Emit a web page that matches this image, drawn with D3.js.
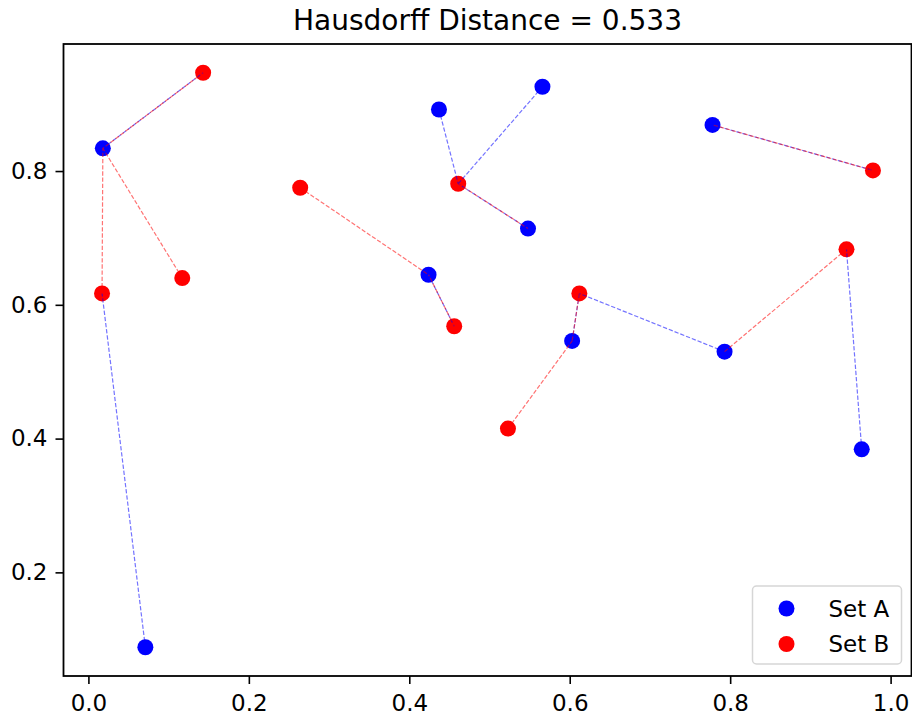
<!DOCTYPE html>
<html>
<head>
<meta charset="utf-8">
<script src="https://cdn.jsdelivr.net/npm/d3@7"></script>
<style>
  body { margin: 0; background: #fff; }
  text { font-family: "DejaVu Sans", sans-serif; }
</style>
</head>
<body>
<div id="chart"></div>
<script>
// point sets
const setAx = [0.018, 0.071, 0.437, 0.566, 0.548, 0.424, 0.603, 0.793, 0.778, 0.964];
const setAy = [0.834, 0.088, 0.892, 0.926, 0.714, 0.645, 0.546, 0.530, 0.869, 0.384];
const setBx = [0.143, 0.017, 0.117, 0.264, 0.461, 0.456, 0.612, 0.523, 0.945, 0.978];
const setBy = [0.947, 0.617, 0.640, 0.775, 0.781, 0.568, 0.617, 0.415, 0.683, 0.801];

const xTicks = [0.0, 0.2, 0.4, 0.6, 0.8, 1.0];
const yTicks = [0.2, 0.4, 0.6, 0.8];
const seriesNames = ["Set A", "Set B"];
const seriesColors = ["#0000ff", "#ff0000"];
const title = "Hausdorff Distance = 0.533";

const width = 912;
const height = 719;
const margin = { top: 44, right: 0.5, bottom: 43, left: 63.5 };
const plotW = width - margin.left - margin.right;
const plotH = height - margin.top - margin.bottom;

const A = setAx.map((x, i) => ({ x: x, y: setAy[i] }));
const B = setBx.map((x, i) => ({ x: x, y: setBy[i] }));
const all = A.concat(B);

// 5% padding like matplotlib autoscale
const xe = d3.extent(all, d => d.x);
const ye = d3.extent(all, d => d.y);
const xp = (xe[1] - xe[0]) * 0.05;
const yp = (ye[1] - ye[0]) * 0.05;

const x = d3.scaleLinear().domain([xe[0] - xp, xe[1] + xp]).range([0, plotW]);
const y = d3.scaleLinear().domain([ye[0] - yp, ye[1] + yp]).range([plotH, 0]);

const svg = d3.select("#chart").append("svg")
  .attr("width", width)
  .attr("height", height);

const g = svg.append("g")
  .attr("transform", `translate(${margin.left},${margin.top})`);

// nearest neighbour pairs
const dist = (p, q) => Math.hypot(p.x - q.x, p.y - q.y);
const linksA = A.map(p => ({ from: p, to: d3.least(B, q => dist(p, q)) }));
const linksB = B.map(p => ({ from: p, to: d3.least(A, q => dist(p, q)) }));

// scatter
[A, B].forEach((pts, k) => {
  g.selectAll(".pt" + k)
    .data(pts)
    .join("circle")
    .attr("class", "pt" + k)
    .attr("cx", d => x(d.x))
    .attr("cy", d => y(d.y))
    .attr("r", 8)
    .attr("fill", seriesColors[k]);
});

// dashed lines drawn above the markers
[linksA, linksB].forEach((links, k) => {
  g.selectAll(".lk" + k)
    .data(links)
    .join("line")
    .attr("class", "lk" + k)
    .attr("x1", d => x(d.from.x))
    .attr("y1", d => y(d.from.y))
    .attr("x2", d => x(d.to.x))
    .attr("y2", d => y(d.to.y))
    .attr("stroke", seriesColors[k])
    .attr("stroke-opacity", 0.55)
    .attr("stroke-width", 1.2)
    .attr("stroke-dasharray", "4.3,1.9");
});

// axes
const xAxis = g.append("g")
  .attr("transform", `translate(0,${plotH})`)
  .call(d3.axisBottom(x).tickValues(xTicks).tickFormat(d3.format(".1f")).tickSize(8).tickPadding(11));
const yAxis = g.append("g")
  .call(d3.axisLeft(y).tickValues(yTicks).tickFormat(d3.format(".1f")).tickSize(8).tickPadding(8));

[xAxis, yAxis].forEach(ax => {
  ax.select(".domain").remove();
  ax.selectAll("line").attr("stroke", "#000").attr("stroke-width", 1.6);
  ax.selectAll("text").attr("fill", "#000").style("font-size", "23px").style("font-family", "DejaVu Sans");
});

// spines
g.append("rect")
  .attr("x", 0).attr("y", 0)
  .attr("width", plotW).attr("height", plotH)
  .attr("fill", "none")
  .attr("stroke", "#000")
  .attr("stroke-width", 1.8);

// title
svg.append("text")
  .attr("x", margin.left + plotW / 2)
  .attr("y", 30)
  .attr("text-anchor", "middle")
  .style("font-size", "28px")
  .attr("fill", "#000")
  .text(title);

// legend
const leg = svg.append("g").attr("transform", "translate(752.5,586)");
leg.append("rect")
  .attr("width", 149).attr("height", 78)
  .attr("rx", 4)
  .attr("fill", "#fff").attr("fill-opacity", 0.8)
  .attr("stroke", "#d6d6d6").attr("stroke-width", 1.5);
seriesNames.forEach((name, i) => {
  leg.append("circle")
    .attr("cx", 34).attr("cy", 22.5 + i * 35.5)
    .attr("r", 8)
    .attr("fill", seriesColors[i]);
  leg.append("text")
    .attr("x", 76).attr("y", 30.5 + i * 35.5)
    .style("font-size", "23px")
    .attr("fill", "#000")
    .text(name);
});
</script>
</body>
</html>
